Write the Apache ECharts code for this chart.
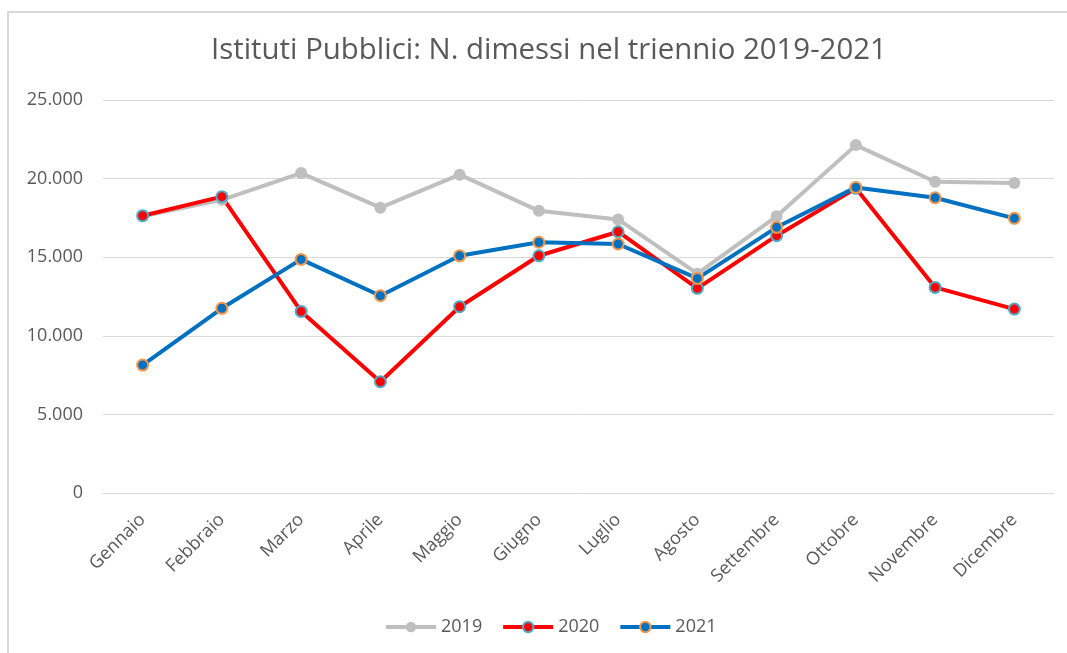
<!DOCTYPE html>
<html>
<head>
<meta charset="utf-8">
<script src="https://cdn.jsdelivr.net/npm/echarts@6/dist/echarts.min.js"></script>
<style>html,body{margin:0;padding:0;background:#fff}#c{width:1067px;height:653px}</style>
</head>
<body>
<div id="c"></div>
<script>
var titleText = 'Istituti Pubblici: N. dimessi nel triennio 2019-2021';
var months = ['Gennaio','Febbraio','Marzo','Aprile','Maggio','Giugno','Luglio','Agosto','Settembre','Ottobre','Novembre','Dicembre'];
var seriesNames = ['2019','2020','2021'];
var v2019 = [17600, 18650, 20350, 18150, 20250, 17950, 17400, 13950, 17600, 22130, 19800, 19720];
var v2020 = [17640, 18850, 11550, 7080, 11850, 15090, 16620, 13020, 16370, 19380, 13080, 11700];
var v2021 = [8140, 11750, 14860, 12550, 15090, 15950, 15840, 13650, 16900, 19440, 18780, 17470];
var yTicks = {min: 0, max: 25000, interval: 5000};

var chart = echarts.init(document.getElementById('c'));
var fontFam = '"Open Sans", "Liberation Sans", sans-serif';
var txt = '#595959';
function fmt(v){ return String(v).replace(/\B(?=(\d{3})+(?!\d))/g, '.'); }
function mk(name, data, color, border){
  return {
    name: name, type: 'line', data: data,
    symbol: 'circle', symbolSize: border ? 11 : 12,
    lineStyle: {color: color, width: 4},
    itemStyle: {color: color, borderColor: border || color, borderWidth: border ? 2 : 0},
    emphasis: {disabled: true}
  };
}
chart.setOption({
  animation: false,
  textStyle: {fontFamily: fontFam},
  graphic: [{type: 'rect', shape: {x: 8, y: 12, width: 1200, height: 800}, style: {fill: 'none', stroke: '#d9d9d9', lineWidth: 2}, silent: true}],
  title: {text: titleText, left: 206, top: 31, textStyle: {fontFamily: fontFam, fontSize: 29.4, fontWeight: 'normal', color: txt}},
  legend: {
    data: seriesNames, bottom: 12, left: 379, itemWidth: 50, itemHeight: 13, itemGap: 19,
    lineStyle: {width: 4},
    textStyle: {fontFamily: fontFam, fontSize: 18, color: txt}
  },
  grid: {left: 103, right: 13, top: 100, bottom: 160, containLabel: false},
  xAxis: {
    type: 'category', data: months, boundaryGap: true,
    axisLine: {lineStyle: {color: '#d9d9d9', width: 1}},
    axisTick: {show: false},
    axisLabel: {rotate: 45, color: txt, fontSize: 18, fontFamily: fontFam, margin: 24, interval: 0}
  },
  yAxis: {
    type: 'value', min: yTicks.min, max: yTicks.max, interval: yTicks.interval,
    axisLine: {show: false}, axisTick: {show: false},
    splitLine: {lineStyle: {color: '#d9d9d9', width: 1}},
    axisLabel: {color: txt, fontSize: 18, fontFamily: fontFam, margin: 20, formatter: fmt}
  },
  series: [
    mk('2019', v2019, '#bfbfbf', null),
    mk('2020', v2020, '#ff0000', '#4bacc6'),
    mk('2021', v2021, '#0070c0', '#f79646')
  ]
});
</script>
</body>
</html>
